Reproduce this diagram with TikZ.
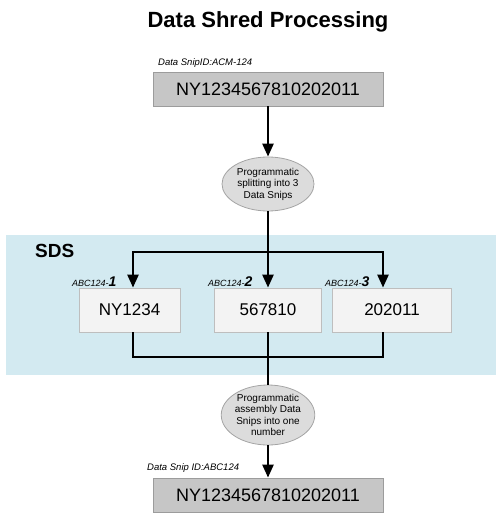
\documentclass[tikz,border=0pt]{standalone}
\usepackage{fontspec}
\setmainfont{Liberation Sans}
\usetikzlibrary{arrows.meta,shapes.geometric}
\definecolor{bigfill}{HTML}{C6C6C6}
\definecolor{bigdraw}{HTML}{9C9C9C}
\definecolor{smallfill}{HTML}{F3F3F3}
\definecolor{smalldraw}{HTML}{BEBEBE}
\definecolor{ellfill}{HTML}{DCDCDC}
\definecolor{elldraw}{HTML}{A4A4A4}
\definecolor{bandblue}{HTML}{D3EAF1}
\begin{document}
\begin{tikzpicture}[x=1pt,y=-1pt,
  ln/.style={line width=2.5pt},
  arr/.style={line width=2.5pt,-{Triangle[length=13pt,width=11pt]}},
  bigbox/.style={draw=bigdraw,fill=bigfill,line width=0.8pt,minimum width=230pt,minimum height=34pt,inner sep=0pt,font=\fontsize{18}{20}\selectfont},
  smallbox/.style={draw=smalldraw,fill=smallfill,line width=0.8pt,minimum height=44pt,inner sep=0pt,font=\fontsize{17}{19}\selectfont},
  ell/.style={ellipse,draw=elldraw,fill=ellfill,line width=0.8pt,inner sep=0pt,align=center,font=\fontsize{10}{11.5}\selectfont},
  idlbl/.style={anchor=base west,inner sep=0pt,font=\itshape\fontsize{9.5}{11}\selectfont},
  snlbl/.style={anchor=base west,inner sep=0pt,font=\itshape\fontsize{9}{11}\selectfont}
]
\useasboundingbox (0,0) rectangle (496,519);
\fill[bandblue] (6,235) rectangle (496,375);
\node[font=\bfseries\fontsize{22}{26}\selectfont] (title) at (268,22) {Data Shred Processing};
\node[anchor=base west,inner sep=0pt,font=\bfseries\fontsize{19}{22}\selectfont] (sds) at (35,257) {SDS};

\node[bigbox] (top) at (268,89) {NY1234567810202011};
\node[idlbl] (toplbl) at (158,66) {Data SnipID:ACM-124};

\node[ell,minimum width=92pt,minimum height=54pt] (e1) at (268,184) {Programmatic\\splitting into 3\\Data Snips};

\node[smallbox,minimum width=101pt] (b1) at (129.5,310) {NY1234};
\node[smallbox,minimum width=107pt] (b2) at (268,310) {567810};
\node[smallbox,minimum width=119pt] (b3) at (392,310) {202011};
\node[snlbl] (l1) at (72,286) {ABC124-{\bfseries\fontsize{14}{16}\selectfont 1}};
\node[snlbl] (l2) at (208,286) {ABC124-{\bfseries\fontsize{14}{16}\selectfont 2}};
\node[snlbl] (l3) at (325,286) {ABC124-{\bfseries\fontsize{14}{16}\selectfont 3}};

\node[ell,minimum width=92pt,minimum height=60pt] (e2) at (268,415) {Programmatic\\assembly Data\\Snips into one\\number};

\node[bigbox] (bot) at (268,495) {NY1234567810202011};
\node[idlbl] (botlbl) at (147,470) {Data Snip ID:ABC124};

\coordinate (s) at (268,252);
\coordinate (s1) at (133,252);
\coordinate (s3) at (383,252);
\coordinate (j1) at (133,357);
\coordinate (j3) at (383,357);

\draw[arr] (top.south) -- (e1.north);
\draw[arr] (e1.south) -- (b2.north);
\draw[arr] (s) -- (s1) -- (s1 |- b1.north);
\draw[arr] (s) -- (s3) -- (s3 |- b3.north);
\draw[ln] (b1.south -| j1) -- (j1) -- (j3) -- (b3.south -| j3);
\draw[ln] (b2.south) -- (e2.north);
\draw[arr] (e2.south) -- (bot.north);
\end{tikzpicture}
\end{document}
